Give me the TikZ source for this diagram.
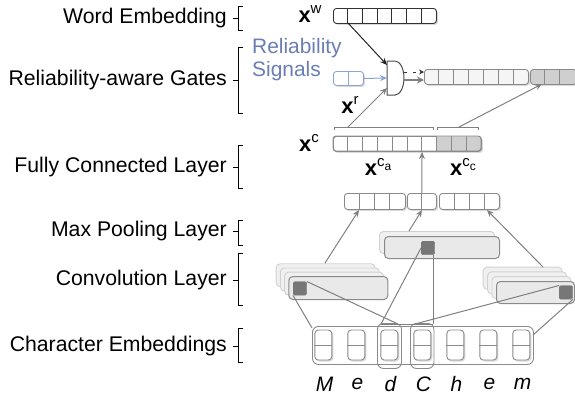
\documentclass[tikz,border=0pt]{standalone}
\usepackage{fontspec}
\setmainfont{Liberation Sans}
\usetikzlibrary{arrows.meta,shadows}
\definecolor{vgray}{HTML}{8A8A8A}
\definecolor{cgray}{HTML}{808080}
\definecolor{dgray}{HTML}{777777}
\definecolor{gfill}{HTML}{CFCFCF}
\definecolor{cfill}{HTML}{E9E9E9}
\definecolor{btext}{HTML}{6A7DB5}
\definecolor{bline}{HTML}{8AA4D6}
\tikzset{
 vbox/.style={draw=vgray, fill=white, rounded corners=3bp, inner sep=0pt, anchor=north west, line width=0.9bp,
   drop shadow={shadow xshift=1.5bp, shadow yshift=-1.5bp, fill=black!15, opacity=1}},
 div/.style={draw=vgray, line width=0.9bp},
 conn/.style={draw=cgray, line width=1bp},
 arr/.style={conn, -{Stealth[length=7bp,width=6bp]}},
 lbl/.style={anchor=east, inner sep=0pt},
 brk/.style={line width=0.9bp, draw=black},
 sq/.style={fill=dgray, draw=dgray, rounded corners=1.5bp, inner sep=0pt, minimum size=13.5bp, anchor=north west},
 convfront/.style={draw=vgray, fill=cfill, rounded corners=4bp, line width=1bp, inner sep=0pt, anchor=north west},
 convback/.style={draw=black!18, fill=black!6, rounded corners=4bp, line width=0.9bp, inner sep=0pt, anchor=north west},
 chcell/.style={draw=vgray, fill=white, rounded corners=3.5bp, line width=0.9bp, inner sep=0pt, minimum width=17bp, minimum height=30bp,
   drop shadow={shadow xshift=1.5bp, shadow yshift=-1.5bp, fill=black!15, opacity=1}},
 fieldbox/.style={draw=vgray, rounded corners=6bp, line width=0.9bp, inner sep=0pt, anchor=north west},
 xl/.style={inner sep=0pt, font=\fontsize{22}{24}\selectfont},
}
\newcommand\xsup[1]{\textbf{x}\raisebox{0.75ex}{\fontsize{15}{15}\selectfont #1}}
\begin{document}
\begin{tikzpicture}[x=1bp,y=-1bp, font=\fontsize{21.3}{25}\selectfont]
\useasboundingbox (0,0) rectangle (575,398);

% ---- left labels and brackets
\node[lbl] (lw) at (227,18) {Word Embedding};
\node[lbl] (lr) at (227,80) {Reliability-aware Gates};
\node[lbl] (lf) at (227,167) {Fully Connected Layer};
\node[lbl] (lm) at (227,231) {Max Pooling Layer};
\node[lbl] (lc) at (227,280) {Convolution Layer};
\node[lbl] (le) at (227,346) {Character Embeddings};
\foreach \t/\m/\b in {6/18/30, 47/80/113, 145/167/188, 220/231/245, 253/280/305, 328/346/362}{
  \draw[brk] (243,\t) -- (238,\t) -- (238,\b) -- (243,\b);
  \draw[brk] (233,\m) -- (238,\m);
}

% ---- word embedding
\node[xl] (lxw) at (310,14) {\xsup{w}};
\node[vbox, draw=black!80, minimum width=103bp, minimum height=15bp] (xw) at (333,8) {};
\foreach \i in {1,...,6} \draw[black!80, line width=0.9bp] (333+\i*14.71,8) -- (333+\i*14.71,23);

% ---- reliability signals
\node[inner sep=0pt, align=left, text=btext, anchor=north west, font=\fontsize{21}{23}\selectfont] (rtxt) at (252,38) {Reliability\\Signals};
\node[vbox, draw=bline, minimum width=30bp, minimum height=14bp] (rs) at (333,71) {};
\draw[bline, line width=0.9bp] (348,71) -- (348,85);
\node[xl] (lxr) at (350,105) {\xsup{r}};

% ---- gate
\draw[draw=black!70, fill=white, line width=1bp] (387,61) -- (395,61) arc[start angle=90, end angle=-90, x radius=9bp, y radius=17bp] -- (387,95) -- cycle;
\coordinate (gtop) at (387,65);
\coordinate (gmid) at (387,78);
\coordinate (gbot) at (387,88);
\coordinate (gout1) at (404,72);
\coordinate (gout2) at (403,80);

% ---- output vector
\node[vbox, fill=black!4, minimum width=104bp, minimum height=15bp] (out) at (424,69) {};
\foreach \i in {1,...,6} \draw[div] (424+\i*14.86,69) -- (424+\i*14.86,84);
\node[vbox, fill=gfill, minimum width=46bp, minimum height=15bp] (outg) at (530,69) {};
\foreach \i in {1,2} \draw[div] (530+\i*14.7,69) -- (530+\i*14.7,84);
\coordinate (outgin) at (542,84);

% ---- x^c vector
\node[xl] (lxc) at (309,143) {\xsup{c}};
\node[vbox, minimum width=148bp, minimum height=15bp] (xc) at (333,136) {};
\begin{scope}
 \clip[rounded corners=3bp] (333,136) rectangle (481,151);
 \fill[gfill] (437,136) rectangle (481,151);
\end{scope}
\draw[vgray, line width=0.9bp, rounded corners=3bp] (333,136) rectangle (481,151);
\foreach \i in {1,...,9} \draw[div] (333+\i*14.8,136) -- (333+\i*14.8,151);
\draw[conn, line width=0.9bp] (334,130) -- (334,127) -- (433,127) -- (433,130);
\draw[conn, line width=0.9bp] (437,130) -- (437,127) -- (478,127) -- (478,130);
\coordinate (bca) at (348,127);
\coordinate (bcc) at (459,127);
\coordinate (xcin) at (422,152);
\node[xl] (lxca) at (378,167) {\textbf{x}\raisebox{0.75ex}{\fontsize{15}{15}\selectfont c\raisebox{-0.45ex}{\fontsize{12}{12}\selectfont a}}};
\node[xl] (lxcc) at (463,167) {\textbf{x}\raisebox{0.75ex}{\fontsize{15}{15}\selectfont c\raisebox{-0.45ex}{\fontsize{12}{12}\selectfont c}}};

% ---- max pooling
\node[vbox, minimum width=61bp, minimum height=16bp] (mp1) at (344,193) {};
\foreach \i in {1,2,3} \draw[div] (344+\i*15.25,193) -- (344+\i*15.25,209);
\node[vbox, minimum width=29bp, minimum height=16bp] (mp2) at (407,193) {};
\draw[div] (421.5,193) -- (421.5,209);
\node[vbox, minimum width=60bp, minimum height=16bp] (mp3) at (439,193) {};
\foreach \i in {1,2,3} \draw[div] (439+\i*15,193) -- (439+\i*15,209);
\coordinate (mp1in) at (359,210);
\coordinate (mp2in) at (422,210);
\coordinate (mp3in) at (487,210);

% ---- convolution middle
\node[convback, minimum width=115bp, minimum height=22bp] (cmb) at (379,231) {};
\node[convfront, minimum width=115bp, minimum height=22bp] (cm) at (384,236) {};
\node[sq] (sqm) at (421,241) {};
\coordinate (cmtop) at (409,231);

% ---- convolution left
\foreach \k in {0,1,2} \node[convback, minimum width=99bp, minimum height=23bp] (clb\k) at (275.7+\k*4.2,263.3+\k*4.2) {};
\node[convfront, minimum width=99bp, minimum height=23bp] (cl) at (288.3,276) {};
\node[sq] (sql) at (293,281.5) {};
\coordinate (cltop) at (325,263);

% ---- convolution right
\foreach \k in {0,1,2} \node[convback, minimum width=79bp, minimum height=22bp] (crb\k) at (482.7+\k*4.4,266.7+\k*4.7) {};
\node[convfront, minimum width=78bp, minimum height=22bp] (cr) at (496,281) {};
\node[sq] (sqr) at (559,285.5) {};
\coordinate (crtop) at (543,267);

% ---- character embeddings
\node[fieldbox, minimum width=221bp, minimum height=38bp] (ce) at (312,326) {};
\foreach \i/\c in {0/M,1/e,2/d,3/C,4/h,5/e,6/m}{
  \node[chcell] (ch\i) at (323.3+\i*33,345) {};
  \draw[div] (ch\i.west) -- (ch\i.east);
  \node[inner sep=0pt, font=\fontsize{21}{23}\selectfont\itshape] (lt\i) at (324.5+\i*33,384) {\c};
}
\node[fieldbox, minimum width=24bp, minimum height=45bp] (fd) at (377,323) {};
\node[fieldbox, minimum width=23.5bp, minimum height=45bp] (fc) at (410,323) {};
\draw[conn, line width=0.9bp] (381,324) -- (433,324);
\coordinate (fdL) at (381,324);
\coordinate (fdR) at (398,324);
\coordinate (fcL) at (415,324);
\coordinate (fcR) at (433.3,324);
\coordinate (ceL) at (312,328);
\coordinate (ceR) at (533,335);

% ---- receptive field lines
\draw[conn] (sql.south west) -- (ceL);
\draw[conn] (sql.north east) -- (fdR);
\draw[conn] (sqm.west) -- (fdL);
\draw[conn] (433.3,254.5) -- (fcR);
\draw[conn] (sqr.north west) -- (fcL);
\draw[conn] (sqr.south east) -- (ceR);

% ---- arrows
\draw[arr] (cltop) -- (mp1in);
\draw[arr] (cmtop) -- (mp2in);
\draw[arr] (crtop) -- (mp3in);
\draw[arr] (mp2.north) -- (xcin);
\draw[arr] (bca) -- (gbot);
\draw[arr] (bcc) -- (outgin);
\draw[draw=black!85, line width=1bp, -{Stealth[length=7bp,width=6bp]}] (348,23) -- (gtop);
\draw[draw=bline, line width=1bp, -{Stealth[length=7bp,width=6bp]}] (rs.east) -- (gmid);
\draw[draw=cgray, line width=2.5bp, -{Stealth[length=7bp,width=7bp]}] (gout2) -- (out.west |- gout2);
\draw[draw=black!80, line width=1bp, dash pattern=on 3bp off 6bp, -{Stealth[length=5bp,width=5bp]}] (gout1) -- (out.west |- gout1);
\end{tikzpicture}
\end{document}
